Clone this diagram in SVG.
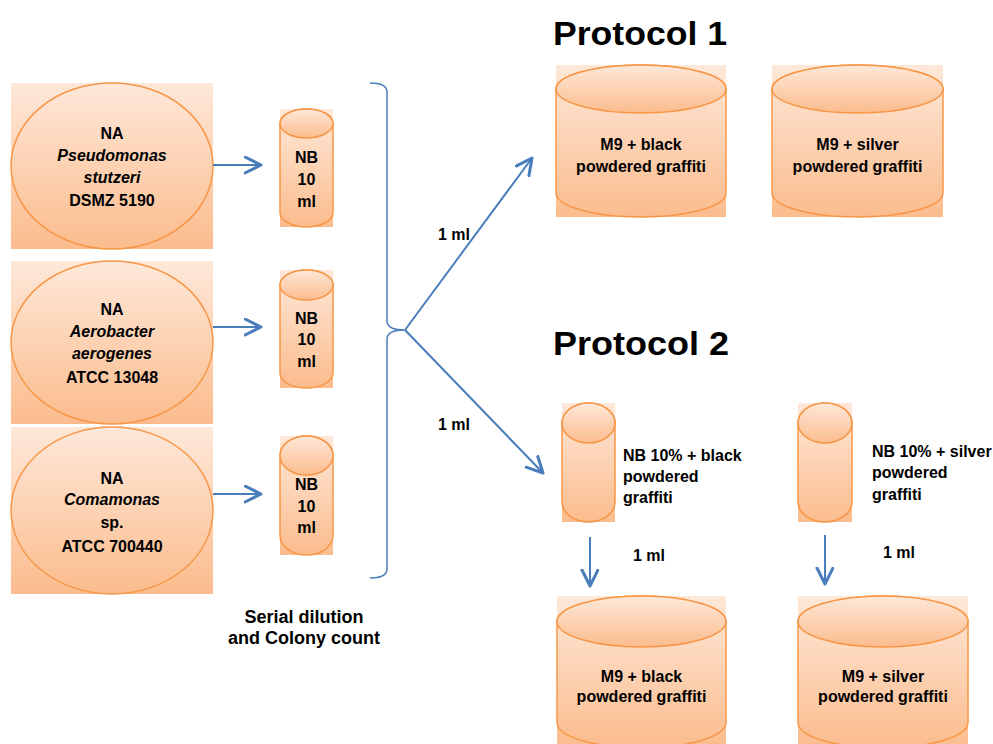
<svg xmlns="http://www.w3.org/2000/svg" width="993" height="744" viewBox="0 0 993 744">
  <style>
    .shape { fill: url(#peach); stroke: #F79646; stroke-width: 1.5; }
    .back { fill: url(#peach); stroke: none; }
    .t { font-family: "Liberation Sans", Arial, sans-serif; font-weight: bold; font-size: 16px; fill: #000; }
    .c { text-anchor: middle; }
    .i { font-style: italic; }
    .title { font-family: "Liberation Sans", Arial, sans-serif; font-weight: bold; font-size: 34px; fill: #000; }
    .flow { fill: none; stroke: #4A7EBB; stroke-width: 2; }
    .brace { fill: none; stroke: #4A7EBB; stroke-width: 1.5; }
  </style>
  <defs>
    <linearGradient id="peach" x1="0" y1="0" x2="0" y2="1">
      <stop offset="0" stop-color="#FEE8D9"/>
      <stop offset="1" stop-color="#FBBC8D"/>
    </linearGradient>
    <marker id="head" markerUnits="userSpaceOnUse" markerWidth="22" markerHeight="22" refX="17" refY="9" orient="auto" viewBox="0 0 22 22">
      <path d="M1,1 L17,9 L1,17" fill="none" stroke="#4A7EBB" stroke-width="3" stroke-linejoin="round" stroke-linecap="round"/>
    </marker>
  </defs>

  <!-- source plates -->
  <g id="plate-pseudomonas">
    <rect class="back" x="11" y="83" width="202" height="166"/>
    <ellipse class="shape" cx="112" cy="166" rx="101" ry="83"/>
    <text class="t c" x="112" y="139">NA</text>
    <text class="t c i" x="112" y="161">Pseudomonas</text>
    <text class="t c i" x="112" y="183">stutzeri</text>
    <text class="t c" x="112" y="206">DSMZ 5190</text>
  </g>
  <g id="plate-aerobacter">
    <rect class="back" x="11" y="261" width="202" height="163"/>
    <ellipse class="shape" cx="112" cy="342.5" rx="101" ry="81.5"/>
    <text class="t c" x="112" y="315">NA</text>
    <text class="t c i" x="112" y="337">Aerobacter</text>
    <text class="t c i" x="112" y="359">aerogenes</text>
    <text class="t c" x="112" y="383">ATCC 13048</text>
  </g>
  <g id="plate-comamonas">
    <rect class="back" x="11" y="427" width="202" height="167"/>
    <ellipse class="shape" cx="112" cy="510.5" rx="101" ry="83.5"/>
    <text class="t c" x="112" y="484">NA</text>
    <text class="t c i" x="112" y="505">Comamonas</text>
    <text class="t c" x="112" y="528">sp.</text>
    <text class="t c" x="112" y="552">ATCC 700440</text>
  </g>

  <!-- NB 10 ml tubes -->
  <g id="tube-1">
    <rect class="back" x="280" y="109" width="53" height="118"/>
    <path class="shape" d="M280,123.5 A26.5,14.5 0 0 1 333,123.5 L333,212.5 A26.5,14.5 0 0 1 280,212.5 Z"/>
    <ellipse class="shape" cx="306.5" cy="123.5" rx="26.5" ry="14.5"/>
    <text class="t c" x="306.5" y="163">NB</text>
    <text class="t c" x="306.5" y="185">10</text>
    <text class="t c" x="306.5" y="207">ml</text>
  </g>
  <g id="tube-2">
    <rect class="back" x="280" y="270" width="53" height="118"/>
    <path class="shape" d="M280,285 A26.5,15 0 0 1 333,285 L333,373 A26.5,15 0 0 1 280,373 Z"/>
    <ellipse class="shape" cx="306.5" cy="285" rx="26.5" ry="15"/>
    <text class="t c" x="306.5" y="324">NB</text>
    <text class="t c" x="306.5" y="345">10</text>
    <text class="t c" x="306.5" y="367">ml</text>
  </g>
  <g id="tube-3">
    <rect class="back" x="280" y="436" width="53" height="119"/>
    <path class="shape" d="M280,455.5 A26.5,19.5 0 0 1 333,455.5 L333,535.5 A26.5,19.5 0 0 1 280,535.5 Z"/>
    <ellipse class="shape" cx="306.5" cy="455.5" rx="26.5" ry="19.5"/>
    <text class="t c" x="306.5" y="490">NB</text>
    <text class="t c" x="306.5" y="512">10</text>
    <text class="t c" x="306.5" y="533">ml</text>
  </g>

  <g id="label-serial">
    <text class="t c" style="font-size:18px" x="304" y="623">Serial dilution</text>
    <text class="t c" style="font-size:18px" x="304" y="644">and Colony count</text>
  </g>

  <!-- Protocol 1 -->
  <g id="protocol-1">
    <text class="title" x="553" y="45" textLength="174" lengthAdjust="spacingAndGlyphs">Protocol 1</text>
  </g>
  <g id="p1-black">
    <rect class="back" x="556" y="65" width="170" height="152"/>
    <path class="shape" d="M556,89 A85,24 0 0 1 726,89 L726,193 A85,24 0 0 1 556,193 Z"/>
    <ellipse class="shape" cx="641" cy="89" rx="85" ry="24"/>
    <text class="t c" x="641" y="150">M9 + black</text>
    <text class="t c" x="641" y="172">powdered graffiti</text>
  </g>
  <g id="p1-silver">
    <rect class="back" x="772" y="65" width="171" height="152"/>
    <path class="shape" d="M772,89 A85.5,24 0 0 1 943,89 L943,193 A85.5,24 0 0 1 772,193 Z"/>
    <ellipse class="shape" cx="857.5" cy="89" rx="85.5" ry="24"/>
    <text class="t c" x="857.5" y="150">M9 + silver</text>
    <text class="t c" x="857.5" y="172">powdered graffiti</text>
  </g>

  <!-- Protocol 2 -->
  <g id="protocol-2">
    <text class="title" x="553" y="355" textLength="176" lengthAdjust="spacingAndGlyphs">Protocol 2</text>
  </g>
  <g id="p2-nb-black">
    <rect class="back" x="562" y="403" width="53" height="119"/>
    <path class="shape" d="M562,423 A26.5,20 0 0 1 615,423 L615,502 A26.5,20 0 0 1 562,502 Z"/>
    <ellipse class="shape" cx="588.5" cy="423" rx="26.5" ry="20"/>
    <text class="t" x="623" y="461">NB 10% + black</text>
    <text class="t" x="623" y="482">powdered</text>
    <text class="t" x="623" y="503">graffiti</text>
  </g>
  <g id="p2-nb-silver">
    <rect class="back" x="798" y="403" width="54" height="119"/>
    <path class="shape" d="M798,423 A27,20 0 0 1 852,423 L852,502 A27,20 0 0 1 798,502 Z"/>
    <ellipse class="shape" cx="825" cy="423" rx="27" ry="20"/>
    <text class="t" x="872" y="457">NB 10% + silver</text>
    <text class="t" x="872" y="478">powdered</text>
    <text class="t" x="872" y="500">graffiti</text>
  </g>
  <g id="p2-m9-black">
    <rect class="back" x="557" y="596" width="169" height="152"/>
    <path class="shape" d="M557,621.5 A84.5,25.5 0 0 1 726,621.5 L726,722.5 A84.5,25.5 0 0 1 557,722.5 Z"/>
    <ellipse class="shape" cx="641.5" cy="621.5" rx="84.5" ry="25.5"/>
    <text class="t c" x="641.5" y="682">M9 + black</text>
    <text class="t c" x="641.5" y="702">powdered graffiti</text>
  </g>
  <g id="p2-m9-silver">
    <rect class="back" x="798" y="596" width="170" height="152"/>
    <path class="shape" d="M798,621.5 A85,25.5 0 0 1 968,621.5 L968,722.5 A85,25.5 0 0 1 798,722.5 Z"/>
    <ellipse class="shape" cx="883" cy="621.5" rx="85" ry="25.5"/>
    <text class="t c" x="883" y="682">M9 + silver</text>
    <text class="t c" x="883" y="702">powdered graffiti</text>
  </g>

  <!-- connectors -->
  <g id="connectors">
    <line class="flow" x1="213" y1="165" x2="261" y2="165" marker-end="url(#head)"/>
    <line class="flow" x1="213" y1="327" x2="261" y2="327" marker-end="url(#head)"/>
    <line class="flow" x1="213" y1="494" x2="261" y2="494" marker-end="url(#head)"/>
    <path class="brace" d="M370,83 Q387,83 387,92 L387,321 Q387,330 405,330 Q387,330 387,339 L387,569 Q387,578 370,578"/>
    <line class="flow" x1="405" y1="330" x2="532" y2="158" marker-end="url(#head)"/>
    <line class="flow" x1="405" y1="330" x2="543" y2="473" marker-end="url(#head)"/>
    <line class="flow" x1="590" y1="537" x2="590" y2="586" marker-end="url(#head)"/>
    <line class="flow" x1="825" y1="535" x2="825" y2="584" marker-end="url(#head)"/>
    <text class="t" x="438" y="240">1 ml</text>
    <text class="t" x="438" y="430">1 ml</text>
    <text class="t" x="633" y="561">1 ml</text>
    <text class="t" x="883" y="558">1 ml</text>
  </g>
</svg>
